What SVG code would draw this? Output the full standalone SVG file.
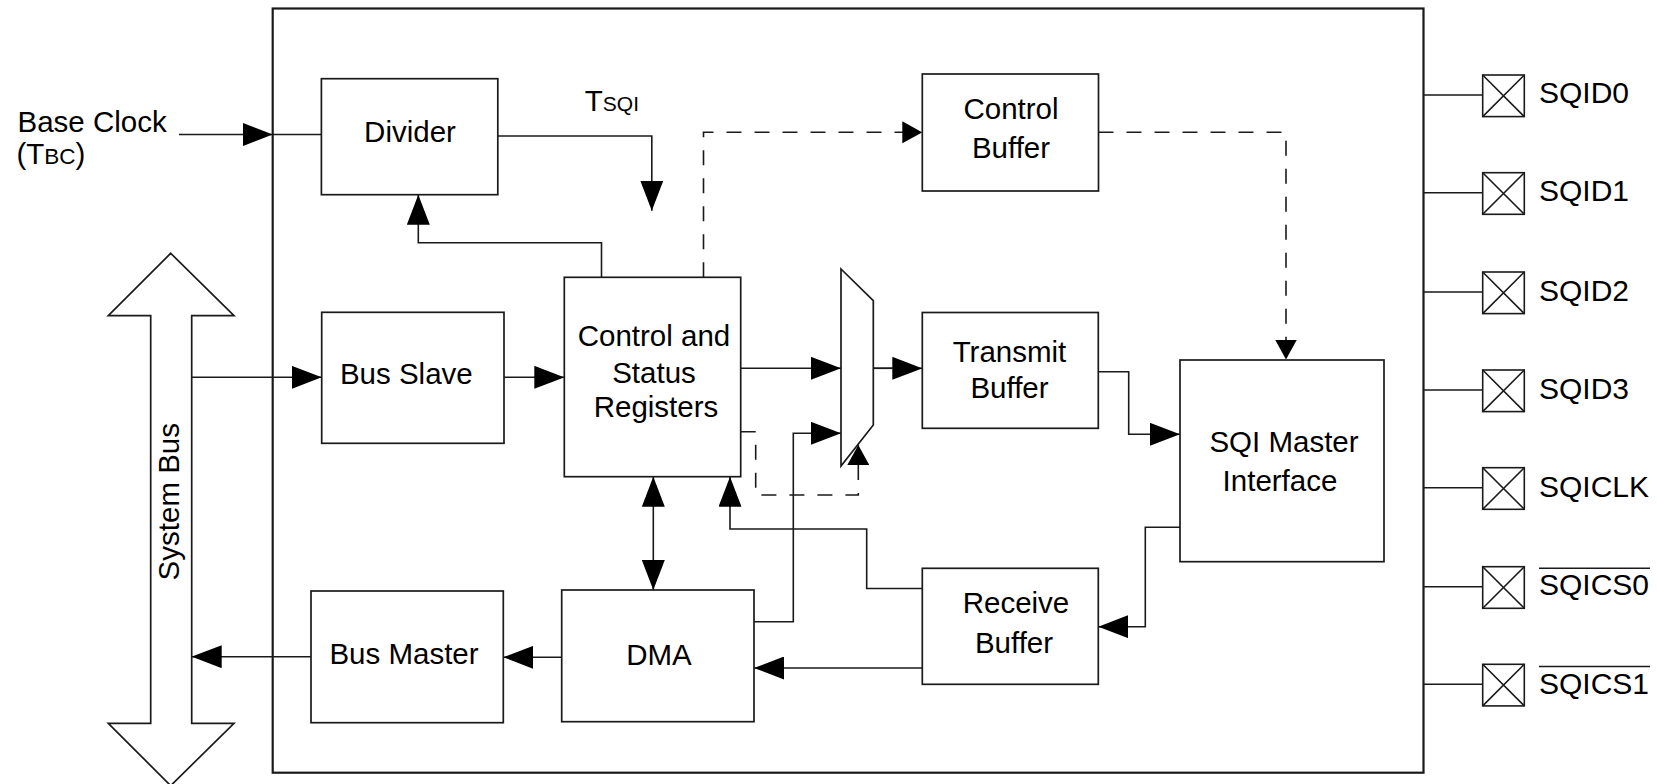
<svg xmlns="http://www.w3.org/2000/svg" width="1657" height="784" viewBox="0 0 1657 784">
<style>
.box{fill:#fff;stroke:#1a1a1a;stroke-width:1.7}
.ln{fill:none;stroke:#1a1a1a;stroke-width:1.6}
.ar{fill:none;stroke:#1a1a1a;stroke-width:1.6;marker-end:url(#ah)}
.da{fill:none;stroke:#1a1a1a;stroke-width:1.6;stroke-dasharray:15 13;marker-end:url(#ahd)}
.t{font-family:"Liberation Sans",Arial,sans-serif;font-size:29.5px;fill:#000}
.c{text-anchor:middle}
.pin{font-family:"Liberation Sans",Arial,sans-serif;font-size:30px;fill:#000}
.pb{fill:#fff;stroke:#1a1a1a;stroke-width:1.6}
</style>
<defs>
<marker id="ah" viewBox="0 0 30 23" refX="30" refY="11.5" markerWidth="30" markerHeight="23" markerUnits="userSpaceOnUse" orient="auto-start-reverse">
<path d="M0,0 L30,11.5 L0,23 Z" fill="#000" stroke="none"/>
</marker>
<marker id="ahd" viewBox="0 0 20 22" refX="20" refY="11" markerWidth="20" markerHeight="22" markerUnits="userSpaceOnUse" orient="auto">
<path d="M0,0 L20,11 L0,22 Z" fill="#000" stroke="none"/>
</marker>
</defs>
<rect width="1657" height="784" fill="#fff"/>

<g id="outer">
<rect x="272.7" y="8.5" width="1150.8" height="764.2" fill="none" stroke="#1a1a1a" stroke-width="2.2"/>
</g>

<g id="connectors">
<path class="ar" d="M179,134.5 H272.7"/>
<path class="ln" d="M272.7,134.5 H321.4"/>
<path class="ar" d="M497.8,136 H651.8 V210.7"/>
<path class="ar" d="M601.5,277.3 V242.7 H418.3 V194.7"/>
<path class="da" d="M703.5,277.3 V132.3 H922.3"/>
<path class="da" d="M1098.5,132.3 H1286 V359.5"/>
<path class="ar" d="M191.7,377.3 H321.7"/>
<path class="ar" d="M504,377.3 H564.3"/>
<path class="ar" d="M740.7,368.3 H841"/>
<path class="ar" d="M872,368.3 H922.3"/>
<path class="ln" d="M872,368.3 H893" stroke-width="3"/>
<path class="ar" d="M754,621.7 H793.3 V433.3 H841"/>
<path class="da" d="M740.7,431.7 H755.7 V495 H858.3 V445"/>
<path class="ar" d="M1098.3,371.7 H1128.7 V434.3 H1180"/>
<path class="ar" d="M1180,527.3 H1145.3 V626.7 H1098.3"/>
<path class="ar" d="M922.3,588.5 H866.7 V529 H730 V476.7"/>
<path class="ar" d="M922.3,668 H754"/>
<path class="ar" d="M653.3,476.7 V590" marker-start="url(#ah)"/>
<path class="ar" d="M561.7,657.3 H503.3"/>
<path class="ar" d="M311,656.7 H191.7"/>
<path class="ln" d="M1423.5,95 H1482.7 M1423.5,192.7 H1482.7 M1423.5,292 H1482.7 M1423.5,390 H1482.7 M1423.5,487.7 H1482.7 M1423.5,586.7 H1482.7 M1423.5,684.3 H1482.7"/>
</g>

<g id="base-clock">
<text class="t" x="17.5" y="132.3">Base Clock</text>
<text class="t" x="16.5" y="163.5">(T<tspan font-size="22.5">BC</tspan>)</text>
</g>

<g id="tsqi">
<text class="t" x="584.8" y="110.7">T<tspan font-size="21">SQI</tspan></text>
</g>

<g id="system-bus">
<polygon class="box" points="170.7,253.3 234,315.7 191.7,315.7 191.7,723.3 234,723.3 170.7,785.7 108.3,723.3 150.7,723.3 150.7,315.7 108.3,315.7"/>
<text class="t c" transform="translate(179,501.7) rotate(-90)">System Bus</text>
</g>

<g id="divider">
<rect class="box" x="321.4" y="78.7" width="176.4" height="116"/>
<text class="t c" x="410" y="141.7">Divider</text>
</g>

<g id="control-buffer">
<rect class="box" x="922.3" y="74" width="176.2" height="117"/>
<text class="t c" x="1011" y="119.3">Control</text>
<text class="t c" x="1011" y="157.7">Buffer</text>
</g>

<g id="bus-slave">
<rect class="box" x="321.7" y="312.3" width="182.3" height="131"/>
<text class="t c" x="406.3" y="384">Bus Slave</text>
</g>

<g id="csr">
<rect class="box" x="564.3" y="277.3" width="176.4" height="199.4"/>
<text class="t c" x="654" y="346">Control and</text>
<text class="t c" x="654" y="383.3">Status</text>
<text class="t c" x="656" y="416.7">Registers</text>
</g>

<g id="mux">
<polygon class="box" points="841,269 873.3,300.7 873.3,425 841,466"/>
</g>

<g id="transmit-buffer">
<rect class="box" x="922.3" y="312.5" width="176" height="115.8"/>
<text class="t c" x="1009.5" y="361.7">Transmit</text>
<text class="t c" x="1009.5" y="398.3">Buffer</text>
</g>

<g id="sqi-master">
<rect class="box" x="1180" y="360" width="204" height="201.7"/>
<text class="t c" x="1284" y="452.3">SQI Master</text>
<text class="t c" x="1280" y="490.7">Interface</text>
</g>

<g id="receive-buffer">
<rect class="box" x="922.3" y="568.3" width="176" height="116"/>
<text class="t c" x="1016" y="613.3">Receive</text>
<text class="t c" x="1014" y="653.3">Buffer</text>
</g>

<g id="dma">
<rect class="box" x="561.7" y="590" width="192.3" height="131.7"/>
<text class="t c" x="659" y="665">DMA</text>
</g>

<g id="bus-master">
<rect class="box" x="311" y="591" width="192.3" height="131.7"/>
<text class="t c" x="404" y="664.3">Bus Master</text>
</g>

<g id="pin-sqid0">
<rect class="pb" x="1482.7" y="75" width="41.6" height="41.6"/>
<path class="ln" d="M1482.7,75 L1524.3,116.6 M1524.3,75 L1482.7,116.6"/>
<text class="pin" x="1539" y="103.3">SQID0</text>
</g>
<g id="pin-sqid1">
<rect class="pb" x="1482.7" y="172.7" width="41.6" height="41.6"/>
<path class="ln" d="M1482.7,172.7 L1524.3,214.3 M1524.3,172.7 L1482.7,214.3"/>
<text class="pin" x="1539" y="201">SQID1</text>
</g>
<g id="pin-sqid2">
<rect class="pb" x="1482.7" y="272" width="41.6" height="41.6"/>
<path class="ln" d="M1482.7,272 L1524.3,313.6 M1524.3,272 L1482.7,313.6"/>
<text class="pin" x="1539" y="300.5">SQID2</text>
</g>
<g id="pin-sqid3">
<rect class="pb" x="1482.7" y="370" width="41.6" height="41.6"/>
<path class="ln" d="M1482.7,370 L1524.3,411.6 M1524.3,370 L1482.7,411.6"/>
<text class="pin" x="1539" y="398.5">SQID3</text>
</g>
<g id="pin-sqiclk">
<rect class="pb" x="1482.7" y="467.7" width="41.6" height="41.6"/>
<path class="ln" d="M1482.7,467.7 L1524.3,509.3 M1524.3,467.7 L1482.7,509.3"/>
<text class="pin" x="1539" y="496.7">SQICLK</text>
</g>
<g id="pin-sqics0">
<rect class="pb" x="1482.7" y="566.7" width="41.6" height="41.6"/>
<path class="ln" d="M1482.7,566.7 L1524.3,608.3 M1524.3,566.7 L1482.7,608.3"/>
<text class="pin" x="1539" y="595">SQICS0</text>
<line x1="1539" y1="568.3" x2="1650" y2="568.3" stroke="#1a1a1a" stroke-width="1.6"/>
</g>
<g id="pin-sqics1">
<rect class="pb" x="1482.7" y="664.3" width="41.6" height="41.6"/>
<path class="ln" d="M1482.7,664.3 L1524.3,705.9 M1524.3,664.3 L1482.7,705.9"/>
<text class="pin" x="1539" y="693.5">SQICS1</text>
<line x1="1539" y1="666.5" x2="1650" y2="666.5" stroke="#1a1a1a" stroke-width="1.6"/>
</g>
</svg>
